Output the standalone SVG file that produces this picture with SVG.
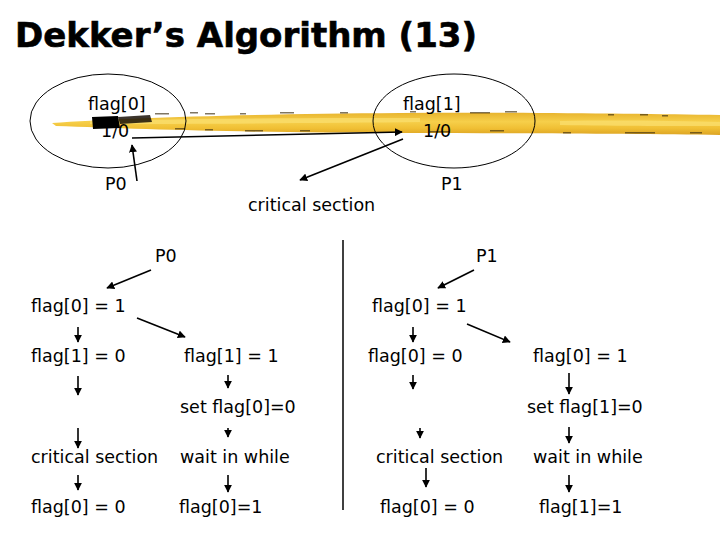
<svg xmlns="http://www.w3.org/2000/svg" width="720" height="540" viewBox="0 0 720 540">
<defs>
<marker id="ah" viewBox="0 0 10 10" refX="9" refY="5" markerWidth="8" markerHeight="8" markerUnits="userSpaceOnUse" orient="auto">
<path d="M0,0 L10,5 L0,10 z" fill="#000"/>
</marker>
<linearGradient id="yb" x1="0" y1="0" x2="0" y2="1">
<stop offset="0" stop-color="#e8b42e"/>
<stop offset="0.4" stop-color="#f6cf4a"/>
<stop offset="0.7" stop-color="#f0bf34"/>
<stop offset="1" stop-color="#dca424"/>
</linearGradient>
</defs>
<style>
text{font-family:"DejaVu Sans","Liberation Sans",sans-serif;font-size:17.5px;fill:#000}
.t{font-weight:bold;font-size:33px;stroke:#000;stroke-width:0.6}
.c line{stroke:#000;stroke-width:1.6;fill:none}
.a{marker-end:url(#ah)}
ellipse{fill:none;stroke:#000;stroke-width:1}
.d rect{fill:#3a2c10;opacity:0.65}
</style>
<rect width="720" height="540" fill="#fff"/>
<text class="t" x="15" y="47" textLength="462" lengthAdjust="spacingAndGlyphs">Dekker’s Algorithm (13)</text>

<g id="brush">
<path d="M52,123 C120,118 250,114 400,113 C520,112 640,114 720,115 L720,135 C640,134 520,133 400,133 C260,133 140,129 56,126 Z" fill="url(#yb)"/>
<path d="M90,121 C200,118 330,118 420,118 L420,122 C330,123 200,124 90,124 Z" fill="#fbe070" opacity="0.7"/>
<path d="M560,121 C620,120 680,121 720,122 L720,126 C680,126 620,126 560,125 Z" fill="#fbe070" opacity="0.7"/>
<path d="M92,117 L118,116 L120,128 L93,129 Z" fill="#000"/>
<path d="M118,117 L150,115 L152,122 L120,124 Z" fill="#1a1208" opacity="0.85"/>
<g class="d">
<rect x="155" y="113" width="14" height="1.5"/>
<rect x="190" y="112" width="8" height="1.5"/>
<rect x="205" y="113" width="10" height="1.5"/>
<rect x="240" y="113" width="6" height="1.5"/>
<rect x="280" y="112" width="14" height="1.5"/>
<rect x="340" y="112" width="8" height="1.5"/>
<rect x="410" y="111" width="6" height="1.5"/>
<rect x="470" y="112" width="20" height="1.5"/>
<rect x="505" y="111" width="12" height="1.5"/>
<rect x="608" y="114" width="6" height="1.5"/>
<rect x="640" y="114" width="8" height="1.5"/>
<rect x="662" y="115" width="6" height="1.5"/>
<rect x="175" y="128" width="10" height="1.5"/>
<rect x="205" y="129" width="8" height="1.5"/>
<rect x="245" y="130" width="18" height="1.5"/>
<rect x="300" y="130" width="10" height="1.5"/>
<rect x="430" y="131" width="20" height="1.5"/>
<rect x="490" y="130" width="14" height="1.5"/>
<rect x="563" y="132" width="8" height="1.5"/>
<rect x="625" y="132" width="30" height="1.5"/>
<rect x="690" y="132" width="12" height="1.5"/>
</g>
</g>

<g id="ellipse-p0">
<ellipse cx="108" cy="121" rx="78" ry="47"/>
<text x="88" y="110">flag[0]</text>
<text x="101" y="137">1/0</text>
<text x="105" y="190">P0</text>
</g>
<g id="ellipse-p1">
<ellipse cx="454" cy="121" rx="81" ry="47"/>
<text x="403" y="110">flag[1]</text>
<text x="423" y="137">1/0</text>
<text x="441" y="190">P1</text>
</g>
<g id="cs-top">
<text x="248" y="211">critical section</text>
</g>

<g id="divider"><line x1="343" y1="240" x2="343" y2="510" stroke="#000" stroke-width="1.5"/></g>

<g id="p0-col">
<text x="155" y="262">P0</text>
<text x="31" y="312">flag[0] = 1</text>
<text x="31" y="362">flag[1] = 0</text>
<text x="184" y="362">flag[1] = 1</text>
<text x="180" y="413">set flag[0]=0</text>
<text x="31" y="463">critical section</text>
<text x="180" y="463">wait in while</text>
<text x="31" y="513">flag[0] = 0</text>
<text x="179" y="513">flag[0]=1</text>
</g>
<g id="p1-col">
<text x="476" y="262">P1</text>
<text x="372" y="312">flag[0] = 1</text>
<text x="368" y="362">flag[0] = 0</text>
<text x="533" y="362">flag[0] = 1</text>
<text x="527" y="413">set flag[1]=0</text>
<text x="376" y="463">critical section</text>
<text x="533" y="463">wait in while</text>
<text x="380" y="513">flag[0] = 0</text>
<text x="539" y="513">flag[1]=1</text>
</g>

<g id="connectors" class="c">
<line class="a" x1="132" y1="138" x2="402" y2="132"/>
<line class="a" x1="137" y1="181" x2="132" y2="145"/>
<line class="a" x1="403" y1="139" x2="300" y2="180"/>

<line class="a" x1="151" y1="270" x2="107" y2="288"/>
<line class="a" x1="78" y1="327" x2="78" y2="342"/>
<line class="a" x1="137" y1="318" x2="185" y2="337"/>
<line class="a" x1="78" y1="376" x2="78" y2="395"/>
<line class="a" x1="228" y1="375" x2="228" y2="388"/>
<line class="a" x1="228" y1="428" x2="228" y2="437"/>
<line class="a" x1="78" y1="428" x2="78" y2="448"/>
<line class="a" x1="78" y1="475" x2="78" y2="490"/>
<line class="a" x1="228" y1="475" x2="228" y2="492"/>

<line class="a" x1="474" y1="270" x2="438" y2="288"/>
<line class="a" x1="413" y1="327" x2="413" y2="342"/>
<line class="a" x1="467" y1="324" x2="510" y2="342"/>
<line class="a" x1="413" y1="375" x2="413" y2="389"/>
<line class="a" x1="569" y1="373" x2="569" y2="394"/>
<line class="a" x1="420" y1="428" x2="420" y2="438"/>
<line class="a" x1="569" y1="427" x2="569" y2="443"/>
<line class="a" x1="426" y1="468" x2="426" y2="487"/>
<line class="a" x1="569" y1="475" x2="569" y2="492"/>
</g>
</svg>
